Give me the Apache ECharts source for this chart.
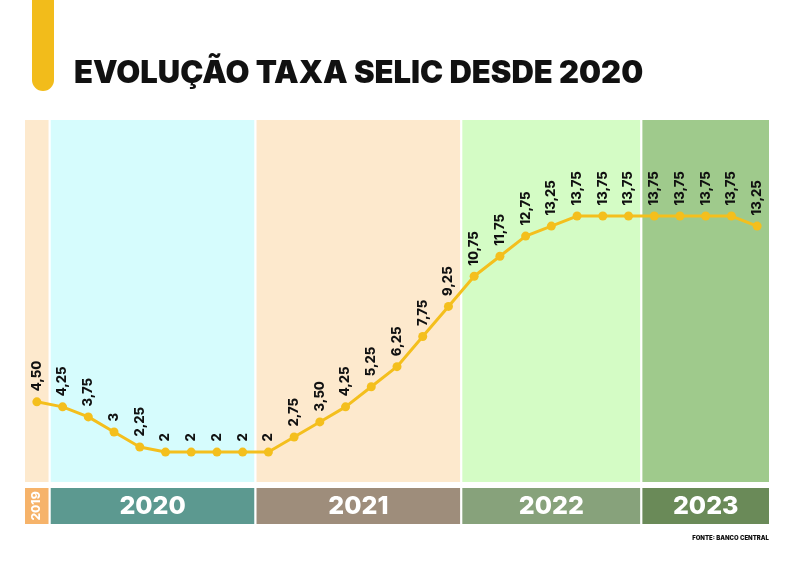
<!DOCTYPE html>
<html>
<head>
<meta charset="utf-8">
<script src="https://cdn.jsdelivr.net/npm/echarts@6/dist/echarts.min.js"></script>
<style>html,body{margin:0;padding:0;background:#fff}#c{width:800px;height:566px}</style>
</head>
<body>
<div id="c"></div>
<script>
var categories = ['dez/19','fev/20','mar/20','mai/20','jun/20','ago/20','set/20','out/20','dez/20',
  'jan/21','mar/21','mai/21','jun/21','ago/21','set/21','out/21','dez/21',
  'fev/22','mar/22','mai/22','jun/22','ago/22','set/22','out/22',
  'fev/23','mar/23','mai/23','jun/23','ago/23'];
var selic = [4.50, 4.25, 3.75, 3, 2.25, 2, 2, 2, 2,
  2, 2.75, 3.50, 4.25, 5.25, 6.25, 7.75, 9.25,
  10.75, 11.75, 12.75, 13.25, 13.75, 13.75, 13.75,
  13.75, 13.75, 13.75, 13.75, 13.25];
var bandYears = ['2019','2020','2021','2022','2023'];
var bandStart = [0, 1, 9, 17, 24];
var bandEnd = [0, 8, 16, 23, 28];
var bandColors = ['#fde9cd','#d6fcfd','#fde9cd','#d4fcc5','#9fca8c'];
var yearColors = ['#f6b36a','#5c9990','#9e8d7b','#87a27b','#6a8a58'];

function fmt(v){ return Number.isInteger(v) ? String(v) : v.toFixed(2).replace('.', ','); }

var n = categories.length;
var topAreas = bandYears.map(function(y, i){
  return [{xAxis: bandStart[i]-0.5, itemStyle:{color: bandColors[i]}}, {xAxis: bandEnd[i]+0.5}];
});
var botAreas = bandYears.map(function(y, i){
  var small = (i === 0);
  return [{xAxis: bandStart[i]-0.5, name: y, itemStyle:{color: yearColors[i]},
    label:{show:true, position:'inside', color:'#fff', fontFamily:'Inter', fontWeight:800,
      fontSize: small ? 12 : 25, rotate: small ? 90 : 0}}, {xAxis: bandEnd[i]+0.5}];
});

var chart = echarts.init(document.getElementById('c'), null, {renderer:'canvas'});
chart.setOption({
  animation: false,
  backgroundColor: '#fff',
  title: {text: 'EVOLUÇÃO TAXA SELIC DESDE 2020', left: 69, top: 53,
    textStyle:{fontFamily:'Inter', fontWeight:900, fontSize:31, color:'#111'}},
  graphic: [
    {type:'rect', shape:{x:32, y:-20, width:22, height:111, r:11}, style:{fill:'#f2bc1b'}},
    {type:'text', right: 31, top: 535, style:{text:'FONTE: BANCO CENTRAL', fontFamily:'Inter', fontWeight:900, fontSize:6, fill:'#111'}}
  ],
  grid: [
    {left:24, right:30, top:119, bottom:83},
    {left:24, right:30, top:487, height:38}
  ],
  xAxis: [
    {type:'category', gridIndex:0, data:categories, boundaryGap:true, show:false},
    {type:'value', gridIndex:0, min:-0.5, max:n-0.5, show:false},
    {type:'value', gridIndex:1, min:-0.5, max:n-0.5, show:false}
  ],
  yAxis: [
    {type:'value', gridIndex:0, min:0.46, max:18.58, show:false},
    {type:'value', gridIndex:1, min:0, max:1, show:false}
  ],
  series: [
    {type:'line', xAxisIndex:1, yAxisIndex:0, data:[], silent:true,
      markArea:{silent:true, itemStyle:{borderColor:'#fff', borderWidth:2}, data: topAreas}},
    {type:'line', xAxisIndex:2, yAxisIndex:1, data:[], silent:true,
      markArea:{silent:true, itemStyle:{borderColor:'#fff', borderWidth:2}, data: botAreas}},
    {type:'line', xAxisIndex:0, yAxisIndex:0, data: selic, z:5,
      lineStyle:{color:'#f4bf1d', width:3}, itemStyle:{color:'#f4bf1d'},
      symbol:'circle', symbolSize:9,
      label:{show:true, position:'top', rotate:90, distance:6, align:'left', verticalAlign:'middle',
        fontFamily:'Inter', fontWeight:800, fontSize:13, color:'#111',
        formatter:function(p){ return fmt(p.value); }}}
  ]
});
</script>
</body>
</html>
